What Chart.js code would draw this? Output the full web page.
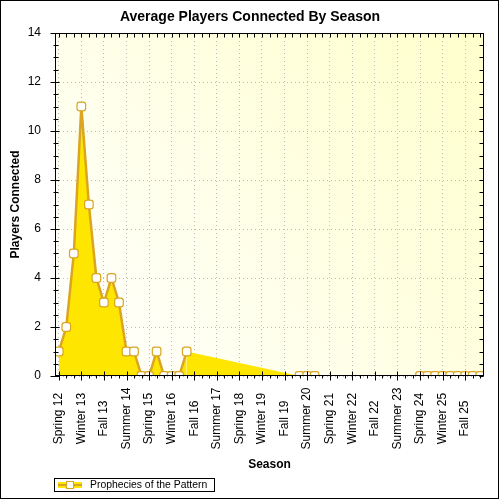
<!DOCTYPE html>
<html><head><meta charset="utf-8">
<script src="https://cdn.jsdelivr.net/npm/chart.js@4"></script>
<style>html,body{margin:0;padding:0;background:#fff}#wrap{width:500px;height:500px;position:relative}</style>
</head><body><div id="wrap"><canvas id="c" width="500" height="500"></canvas></div>
<script>
const chartTitle = 'Average Players Connected By Season';
const xTitle = 'Season';
const yTitle = 'Players Connected';
const seriesName = 'Prophecies of the Pattern';
const seasons = ['Spring 12','Summer 12','Fall 12','Winter 13','Spring 13','Summer 13','Fall 13','Winter 14',
 'Spring 14','Summer 14','Fall 14','Winter 15','Spring 15','Summer 15','Fall 15','Winter 16',
 'Spring 16','Summer 16','Fall 16','Winter 17','Spring 17','Summer 17','Fall 17','Winter 18',
 'Spring 18','Summer 18','Fall 18','Winter 19','Spring 19','Summer 19','Fall 19','Winter 20',
 'Spring 20','Summer 20','Fall 20','Winter 21','Spring 21','Summer 21','Fall 21','Winter 22',
 'Spring 22','Summer 22','Fall 22','Winter 23','Spring 23','Summer 23','Fall 23','Winter 24',
 'Spring 24','Summer 24','Fall 24','Winter 25','Spring 25','Summer 25','Fall 25','Winter 26','Spring 26'];
const players = [1,2,5,11,7,4,3,4,3,1,1,0,0,1,0,0,0,1,
 null,null,null,null,null,null,null,null,null,null,null,null,null,null,
 0,0,0,
 null,null,null,null,null,null,null,null,null,null,null,null,null,
 0,0,0,0,0,0,0,0,0];
// area that the original renderer filled across the missing seasons (no line drawn)
const gapFill = [null,null,null,null,null,null,null,null,null,null,null,null,null,null,null,null,null,1,
 null,null,null,null,null,null,null,null,null,null,null,null,null,null,
 0,null,null,
 null,null,null,null,null,null,null,null,null,null,null,null,null,
 null,null,null,null,null,null,null,null,null];
const yTicks = [0,2,4,6,8,10,12,14];
const labelEvery = 3;

const FONT = 'Arial, "Liberation Sans", sans-serif';
const lineColor = '#DAA520';
const fillColor = '#FFE600';
const gridColor = '#BBBBBB';

const framePlugin = {
  id: 'frame',
  beforeDraw(chart) {
    const {ctx, chartArea: a} = chart;
    ctx.save();
    ctx.fillStyle = '#fff';
    ctx.fillRect(0, 0, chart.width, chart.height);
    const g = ctx.createLinearGradient(a.left, a.bottom, a.right, a.top);
    g.addColorStop(0, '#ffffff');
    g.addColorStop(1, '#ffffcc');
    ctx.fillStyle = g;
    ctx.fillRect(a.left, a.top, a.right - a.left, a.bottom - a.top);
    ctx.restore();
  },
  afterDraw(chart) {
    const {ctx, chartArea: a, scales: {x, y}} = chart;
    ctx.save();
    ctx.strokeStyle = '#000';
    ctx.lineWidth = 1;
    const L = Math.round(a.left) + 0.5, R = Math.round(a.right) - 0.5;
    const T = Math.round(a.top) + 0.5, B = Math.round(a.bottom) - 0.5;
    ctx.strokeRect(L, T, R - L, B - T);
    ctx.beginPath();
    const yMax = yTicks[yTicks.length - 1];
    const yStep = yTicks[1] - yTicks[0];
    for (let v = yTicks[0]; v <= yMax; v += 0.5) {
      const py = Math.round(y.getPixelForValue(v)) + 0.5;
      if (v % yStep === 0) { ctx.moveTo(L - 5, py); ctx.lineTo(L + 4, py); }
      else { ctx.moveTo(L - 2, py); ctx.lineTo(L + 3, py); }
      ctx.moveTo(R - 4, py); ctx.lineTo(R, py);
    }
    seasons.forEach((s, i) => {
      const px = Math.round(x.getPixelForValue(i)) + 0.5;
      if (i % labelEvery === 0) { ctx.moveTo(px, B - 4); ctx.lineTo(px, B + 5); }
      else { ctx.moveTo(px, B); ctx.lineTo(px, B + 3); }
      ctx.moveTo(px, T); ctx.lineTo(px, T + 4);
    });
    ctx.stroke();
    // rotated, centred category labels
    ctx.fillStyle = '#000';
    ctx.font = '12px ' + FONT;
    ctx.textAlign = 'center';
    ctx.textBaseline = 'middle';
    seasons.forEach((s, i) => {
      if (i % labelEvery) return;
      ctx.save();
      ctx.translate(x.getPixelForValue(i), B + 43);
      ctx.rotate(-Math.PI / 2);
      ctx.fillText(s, 0, 0);
      ctx.restore();
    });
    // legend
    const ds = chart.data.datasets[0];
    ctx.strokeStyle = '#000';
    ctx.lineWidth = 1;
    ctx.strokeRect(54.5, 478.5, 160, 13);
    ctx.fillStyle = ds.backgroundColor;
    ctx.fillRect(58, 482, 24, 6);
    ctx.strokeStyle = ds.borderColor;
    ctx.lineWidth = 2;
    ctx.beginPath(); ctx.moveTo(58, 485); ctx.lineTo(82, 485); ctx.stroke();
    ctx.fillStyle = '#fff';
    ctx.lineWidth = 1;
    ctx.fillRect(66.5, 481.5, 7, 7);
    ctx.strokeRect(66.5, 481.5, 7, 7);
    ctx.fillStyle = '#000';
    ctx.font = '10.4px ' + FONT;
    ctx.textAlign = 'left';
    ctx.textBaseline = 'middle';
    ctx.fillText(ds.label, 90, 485.5);
    // outer frame
    ctx.strokeStyle = '#000';
    ctx.strokeRect(0.5, 0.5, 498, 498);
    ctx.restore();
  }
};

new Chart(document.getElementById('c'), {
  type: 'line',
  data: {
    labels: seasons,
    datasets: [
      {
        label: seriesName, data: players, order: 0,
        borderColor: lineColor, backgroundColor: fillColor, borderWidth: 2.5,
        fill: 'origin', tension: 0, spanGaps: false, clip: 0,
        pointStyle: 'rectRounded', pointRadius: 5,
        pointBackgroundColor: '#fff', pointBorderColor: lineColor, pointBorderWidth: 1.2
      },
      {
        label: '', data: gapFill, order: 1,
        borderWidth: 0, borderColor: 'rgba(0,0,0,0)', backgroundColor: fillColor,
        fill: 'origin', spanGaps: true, pointRadius: 0, clip: 0
      }
    ]
  },
  options: {
    responsive: false,
    animation: false,
    layout: {padding: {left: 0, right: 0, top: 0, bottom: 27}},
    plugins: {
      legend: {display: false},
      tooltip: {enabled: false},
      title: {
        display: true, text: chartTitle, color: '#000',
        font: {family: FONT, size: 14, weight: 'bold'},
        padding: {top: 8.6, bottom: 7.6}
      }
    },
    scales: {
      x: {
        type: 'category', offset: true,
        grid: {color: c => (c.index % labelEvery === 0 ? gridColor : 'rgba(0,0,0,0)'), drawTicks: false},
        border: {display: false, dash: [1, 3]},
        ticks: {display: false},
        afterFit: s => { s.height = 97; },
        title: {display: true, text: xTitle, color: '#000', font: {family: FONT, size: 12, weight: 'bold'}, padding: {top: 0, bottom: 1}}
      },
      y: {
        type: 'linear', min: yTicks[0], max: yTicks[yTicks.length - 1],
        afterBuildTicks: s => { s.ticks = yTicks.map(v => ({value: v})); },
        ticks: {padding: 14, color: '#000', font: {family: FONT, size: 12}},
        grid: {color: gridColor, drawTicks: false},
        border: {display: false, dash: [1, 3]},
        afterFit: s => { s.width = 55; },
        title: {display: true, text: yTitle, color: '#000', font: {family: FONT, size: 12, weight: 'bold'}, padding: {top: 8.5, bottom: 0}}
      },
      yR: {
        type: 'linear', position: 'right', display: true,
        grid: {display: false, drawTicks: false},
        ticks: {display: false},
        border: {display: false},
        afterFit: s => { s.width = 16; }
      }
    }
  },
  plugins: [framePlugin]
});
</script>
</body></html>
